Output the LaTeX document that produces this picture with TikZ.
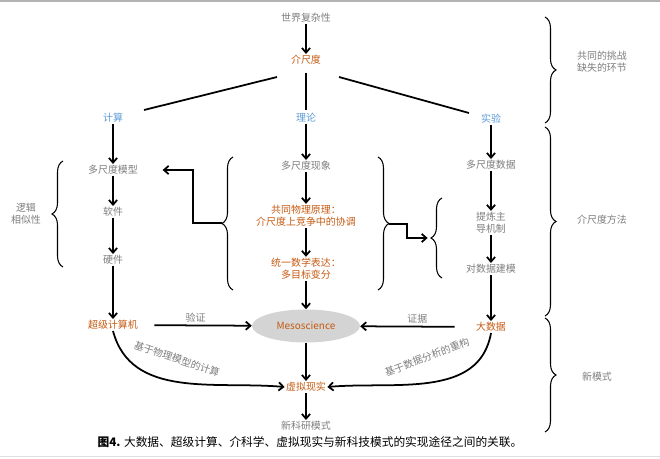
\documentclass[tikz,border=0pt]{standalone}
\usepackage{fontspec}
\setmainfont{Noto Sans CJK SC}
\usetikzlibrary{arrows.meta}
\usetikzlibrary{shapes.geometric}
\usetikzlibrary{decorations.pathreplacing}
\definecolor{txtgray}{RGB}{125,125,125}
\definecolor{mesoorange}{RGB}{197,90,17}
\definecolor{wayblue}{RGB}{91,155,213}
\begin{document}
\begin{tikzpicture}[x=0.03cm, y=-0.03cm,
    lbl/.style={font=\fontsize{8.5}{10.5}\selectfont, text=txtgray, inner sep=1pt, align=center},
    key/.style={lbl, text=mesoorange},
    way/.style={lbl, text=wayblue},
    arr/.style={line width=1.5pt, -{Straight Barb[length=4pt,width=7pt]}},
    link/.style={line width=1.5pt},
    brc/.style={line width=0.9pt, decorate, decoration={brace, amplitude=0.33cm}}]

    \useasboundingbox (0,0) rectangle (660,459);
    \draw[gray!60, line width=1pt] (0,1) -- (660,1);
    \draw[gray!25, line width=0.6pt] (0,456) -- (660,456);

    % top
    \node[lbl] (world) at (306,18) {世界复杂性};
    \node[key] (mid) at (306,60) {介尺度};

    \node[way] (calc) at (113,118) {计算};
    \node[way] (theo) at (306,118) {理论};
    \node[way] (expt) at (491,119) {实验};

    \coordinate (midL) at (277,77);
    \coordinate (calcR) at (144,110);
    \coordinate (midR) at (339,77);
    \coordinate (exptL) at (469,113);

    \draw[arr] (world) -- (mid);
    \draw[link] (midL) -- (calcR);
    \draw[link, shorten <=0.2cm, shorten >=0.05cm] (mid) -- (theo);
    \draw[link] (midR) -- (exptL);

    % computation column
    \node[lbl] (model) at (113,170) {多尺度模型};
    \node[lbl] (soft) at (113,212) {软件};
    \node[lbl] (hard) at (113,260) {硬件};
    \node[key] (super) at (113,325) {超级计算机};

    \draw[arr] (calc) -- (model);
    \draw[arr] (model) -- (soft);
    \draw[arr] (soft) -- (hard);
    \draw[arr] (hard) -- (super);

    % theory column
    \node[lbl] (phen) at (306,166) {多尺度现象};
    \node[key] (princ) at (306,216) {共同物理原理：\\介尺度上竞争中的协调};
    \node[key] (math) at (306,269) {统一数学表达：\\多目标变分};
    \node[ellipse, fill=black!17, minimum width=108*0.03cm, minimum height=33*0.03cm,
          inner sep=0pt, text=mesoorange, font=\fontsize{8.5}{10}\selectfont] (meso) at (306,326) {Mesoscience};
    \node[key] (vr) at (306,387) {虚拟现实};
    \node[lbl] (newmode) at (306,426) {新科研模式};

    \draw[arr] (theo) -- (phen);
    \draw[arr] (phen) -- (princ);
    \draw[arr] (princ) -- (math);
    \draw[arr] (math) -- (meso);
    \draw[arr] (meso) -- (vr);
    \draw[arr] (vr) -- (newmode);

    % experiment column
    \node[lbl] (data) at (491,165) {多尺度数据};
    \node[lbl] (mech) at (491,223) {提炼主\\导机制};
    \node[lbl] (dmod) at (491,269) {对数据建模};
    \node[key] (big) at (491,327) {大数据};

    \draw[arr] (expt) -- (data);
    \draw[arr] (data) -- (mech);
    \draw[arr] (mech) -- (dmod);
    \draw[arr] (dmod) -- (big);

    % links to Mesoscience
    \draw[arr, shorten <=0.45cm] (super) -- node[lbl, above=1pt] (verify) {验证} (meso);
    \draw[arr, shorten <=0.6cm] (big) -- node[lbl, above=1pt] (proof) {证据} (meso);

    \draw[arr] (super.south) to[out=-75, in=175] (vr.west);
    \node[lbl, rotate=-19] (phys) at (177,359) {基于物理模型的计算};
    \draw[arr] (big.south) to[out=-100, in=5] (vr.east);
    \node[lbl, rotate=21] (anal) at (427,357) {基于数据分析的重构};

    % braces
    \draw[brc] (63,267) -- (63,161);
    \node[lbl] (logic) at (26,214) {逻辑\\相似性};

    \draw[brc] (233,290) -- (233,157);
    \coordinate (tipL) at (222,223);
    \draw[brc] (378,157) -- (378,290);
    \coordinate (tipR) at (389,224);
    \draw[brc] (442,278) -- (442,198);
    \coordinate (tipS) at (431,238);

    \draw[arr, shorten >=0.7cm] (tipL) -- ++(-29,0) |- (model.east);
    \draw[arr, shorten >=0.1cm] (tipR) -- ++(18,0) |- (tipS);

    \draw[brc] (545,17) -- (545,123);
    \node[lbl] (chall) at (602,62) {共同的挑战\\缺失的环节};
    \draw[brc] (545,127) -- (545,316);
    \node[lbl] (method) at (602,220) {介尺度方法};
    \draw[brc] (545,318) -- (545,432);
    \node[lbl] (newm) at (597,377) {新模式};

    % caption
    \node[font=\fontsize{10}{12}\selectfont, inner sep=0pt] (cap) at (310,442)
        {\textbf{图4.} 大数据、超级计算、介科学、虚拟现实与新科技模式的实现途径之间的关联。};
\end{tikzpicture}
\end{document}
